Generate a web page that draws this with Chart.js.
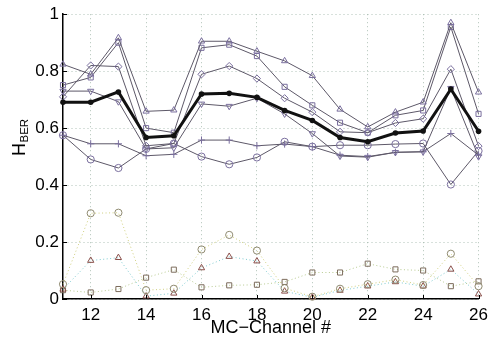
<!DOCTYPE html>
<html>
<head>
<meta charset="utf-8">
<script src="https://cdn.jsdelivr.net/npm/chart.js@4/dist/chart.umd.min.js"></script>
<style>
  html, body { margin: 0; padding: 0; background: #ffffff; }
  #wrap { width: 494px; height: 338px; }
</style>
</head>
<body>
<div id="wrap"><canvas id="chart" width="494" height="338"></canvas></div>
<script>
// MC channel numbers on the x axis
const channels = [11, 12, 13, 14, 15, 16, 17, 18, 19, 20, 21, 22, 23, 24, 25, 26];

// Per-run H_BER curves (solid lines)
const runTriangle = [0.824, 0.789, 0.917, 0.659, 0.663, 0.905, 0.905, 0.870, 0.836, 0.784, 0.666, 0.604, 0.656, 0.691, 0.970, 0.726];
const runSquare   = [0.751, 0.778, 0.900, 0.600, 0.584, 0.882, 0.893, 0.853, 0.745, 0.680, 0.619, 0.584, 0.645, 0.662, 0.955, 0.650];
const runDiamond  = [0.710, 0.820, 0.816, 0.538, 0.546, 0.789, 0.818, 0.774, 0.705, 0.656, 0.587, 0.584, 0.618, 0.633, 0.807, 0.537];
const runDownTri  = [0.730, 0.730, 0.693, 0.527, 0.531, 0.685, 0.677, 0.705, 0.650, 0.581, 0.502, 0.498, 0.515, 0.517, 0.740, 0.500];
const runPlus     = [0.575, 0.545, 0.545, 0.503, 0.508, 0.558, 0.558, 0.538, 0.544, 0.535, 0.505, 0.500, 0.515, 0.517, 0.581, 0.505];
const runCircle   = [0.575, 0.490, 0.460, 0.527, 0.546, 0.500, 0.473, 0.497, 0.552, 0.535, 0.540, 0.540, 0.544, 0.546, 0.402, 0.520];

// Average curve (thick black)
const meanCurve   = [0.691, 0.691, 0.727, 0.567, 0.573, 0.720, 0.722, 0.708, 0.662, 0.627, 0.567, 0.552, 0.583, 0.590, 0.737, 0.589];

// Low-valued curves (dotted lines)
const lowCircle   = [0.052, 0.301, 0.303, 0.031, 0.036, 0.174, 0.225, 0.170, 0.038, 0.008, 0.036, 0.052, 0.068, 0.049, 0.159, 0.045];
const lowTriangle = [0.034, 0.135, 0.145, 0.010, 0.020, 0.109, 0.149, 0.133, 0.027, 0.006, 0.030, 0.045, 0.060, 0.045, 0.104, 0.017];
const lowSquare   = [0.031, 0.023, 0.035, 0.075, 0.103, 0.041, 0.048, 0.050, 0.060, 0.093, 0.093, 0.124, 0.104, 0.100, 0.045, 0.062];

// Axis ticks
const xTickValues = [12, 14, 16, 18, 20, 22, 24, 26];
const yTickValues = [0, 0.2, 0.4, 0.6, 0.8, 1];
const yTickLabels = ['0', '0.2', '0.4', '0.6', '0.8', '1'];

const toPoints = vals => vals.map((v, i) => ({ x: channels[i], y: v }));

const FONT = '"Liberation Sans", Arial, Helvetica, sans-serif';

function solidRun(values, style, rotation) {
  return {
    data: toPoints(values),
    borderColor: '#5d5868',
    borderWidth: 1,
    pointStyle: style,
    pointRotation: rotation || 0,
    pointRadius: 3.6,
    pointBorderWidth: 1,
    pointBorderColor: '#7a6f9e',
    pointBackgroundColor: 'rgba(255,255,255,0)',
    tension: 0,
    clip: false,
    order: 2
  };
}

function dottedRun(values, style, lineColor, markColor) {
  return {
    data: toPoints(values),
    borderColor: lineColor,
    borderWidth: 1,
    borderDash: [1, 2.5],
    pointStyle: style,
    pointRadius: 3.6,
    pointBorderWidth: 1,
    pointBorderColor: markColor,
    pointBackgroundColor: 'rgba(255,255,255,0)',
    tension: 0,
    clip: false,
    order: 3
  };
}

// Inward tick marks on the left and bottom axes
const inwardTicks = {
  id: 'inwardTicks',
  afterDatasetsDraw(chart) {
    const { ctx, chartArea, scales } = chart;
    ctx.save();
    ctx.strokeStyle = '#000';
    ctx.lineWidth = 1;
    ctx.beginPath();
    xTickValues.forEach(v => {
      const px = Math.round(scales.x.getPixelForValue(v)) + 0.5;
      ctx.moveTo(px, chartArea.bottom);
      ctx.lineTo(px, chartArea.bottom - 4);
    });
    yTickValues.forEach(v => {
      const py = Math.round(scales.y.getPixelForValue(v)) + 0.5;
      ctx.moveTo(chartArea.left, py);
      ctx.lineTo(chartArea.left + 4, py);
    });
    ctx.stroke();
    ctx.restore();
  }
};

// Rotated y-axis title with subscript: H_BER
const yTitle = {
  id: 'yTitle',
  afterDraw(chart) {
    const { ctx } = chart;
    ctx.save();
    ctx.fillStyle = '#000';
    ctx.translate(25, 156);
    ctx.rotate(-Math.PI / 2);
    ctx.textBaseline = 'alphabetic';
    ctx.textAlign = 'left';
    ctx.font = '18px ' + FONT;
    ctx.fillText('H', 0, 0);
    const w = ctx.measureText('H').width;
    ctx.font = '11.5px ' + FONT;
    ctx.fillText('BER', w + 0.5, 3);
    ctx.restore();
  }
};

new Chart(document.getElementById('chart'), {
  type: 'line',
  data: {
    datasets: [
      {
        data: toPoints(meanCurve),
        borderColor: '#111111',
        borderWidth: 3,
        pointStyle: 'circle',
        pointRadius: 2.8,
        pointBorderWidth: 0,
        pointBackgroundColor: '#111111',
        tension: 0,
        clip: false,
        order: 0
      },
      solidRun(runTriangle, 'triangle'),
      solidRun(runSquare, 'rect'),
      solidRun(runDiamond, 'rectRot'),
      solidRun(runDownTri, 'triangle', 180),
      solidRun(runPlus, 'cross'),
      solidRun(runCircle, 'circle'),
      dottedRun(lowCircle, 'circle', 'rgba(205,205,120,0.95)', '#8f8a70'),
      dottedRun(lowTriangle, 'triangle', 'rgba(120,200,205,0.95)', '#8a4f4a'),
      dottedRun(lowSquare, 'rect', 'rgba(180,200,140,0.95)', '#7c6c5c')
    ]
  },
  options: {
    responsive: false,
    animation: false,
    devicePixelRatio: 1,
    layout: { padding: { top: 11, right: 11, left: 0, bottom: 0 } },
    plugins: {
      legend: { display: false },
      tooltip: { enabled: false }
    },
    scales: {
      x: {
        type: 'linear',
        min: 11,
        max: 26,
        afterBuildTicks: s => { s.ticks = xTickValues.map(v => ({ value: v })); },
        afterFit: s => { s.height = 39; },
        ticks: {
          color: '#000',
          font: { family: FONT, size: 17 },
          padding: 6,
          maxRotation: 0,
          autoSkip: false
        },
        grid: {
          color: 'rgba(150,175,160,0.75)',
          lineWidth: 1,
          drawTicks: false
        },
        border: { display: true, color: '#000', width: 1.5, dash: [1, 3] },
        title: {
          display: true,
          text: 'MC\u2212Channel #',
          color: '#000',
          font: { family: FONT, size: 18 },
          padding: { top: 0, bottom: -1 }
        }
      },
      y: {
        type: 'linear',
        min: 0,
        max: 1,
        afterBuildTicks: s => { s.ticks = yTickValues.map(v => ({ value: v })); },
        afterFit: s => { s.width = 63; },
        ticks: {
          color: '#000',
          font: { family: FONT, size: 17 },
          padding: 4,
          callback: v => yTickLabels[yTickValues.indexOf(v)]
        },
        grid: {
          color: 'rgba(150,175,160,0.75)',
          lineWidth: 1,
          drawTicks: false
        },
        border: { display: true, color: '#000', width: 1.5, dash: [1, 3] }
      }
    }
  },
  plugins: [inwardTicks, yTitle]
});
</script>
</body>
</html>
